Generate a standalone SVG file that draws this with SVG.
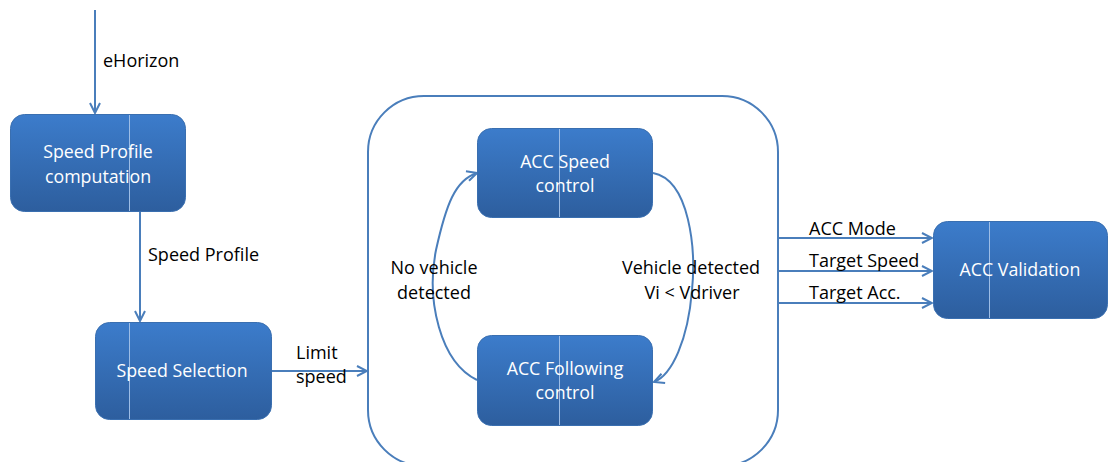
<svg xmlns="http://www.w3.org/2000/svg" width="1109" height="462" viewBox="0 0 1109 462">
  <style>
    .node rect.box { fill: url(#nodeFill); stroke: #3a6fb0; stroke-width: 1; }
    .node line.seam { stroke: #9dbde6; stroke-width: 1; }
    .node text { font-family: "Open Sans", "Liberation Sans", sans-serif; font-size: 17.8px; fill: #ffffff; text-anchor: middle; }
    .conn { fill: none; stroke: #4a7ebb; stroke-width: 2; }
    .lbl { font-family: "Open Sans", "Liberation Sans", sans-serif; font-size: 18px; fill: #000000; }
  </style>
  <defs>
    <linearGradient id="nodeFill" x1="0" y1="0" x2="0" y2="1">
      <stop offset="0" stop-color="#3c7ccb"/>
      <stop offset="1" stop-color="#2d5e9e"/>
    </linearGradient>
    <marker id="arrow" viewBox="0 0 12 12" refX="11" refY="6" markerWidth="12" markerHeight="12" markerUnits="userSpaceOnUse" orient="auto">
      <path d="M1,1 L11,6 L1,11" fill="none" stroke="#4a7ebb" stroke-width="2"/>
    </marker>
  </defs>

  <!-- connectors -->
  <g id="connectors">
    <line class="conn" x1="95" y1="10" x2="95" y2="113" marker-end="url(#arrow)"/>
    <line class="conn" x1="140" y1="212" x2="140" y2="321" marker-end="url(#arrow)"/>
    <line class="conn" x1="272" y1="371" x2="367" y2="371" marker-end="url(#arrow)"/>
    <!-- state loop -->
    <path class="conn" d="M477,380 C440,362 426,300 436,250 C446,205 455,180 477,173" marker-end="url(#arrow)"/>
    <path class="conn" d="M653,173 C690,180 696,250 692,290 C688,340 672,375 654,382" marker-end="url(#arrow)"/>
    <!-- outputs -->
    <line class="conn" x1="778" y1="238" x2="932" y2="238" marker-end="url(#arrow)"/>
    <line class="conn" x1="778" y1="271" x2="932" y2="271" marker-end="url(#arrow)"/>
    <line class="conn" x1="778" y1="303" x2="932" y2="303" marker-end="url(#arrow)"/>
  </g>

  <!-- ACC state container -->
  <g id="acc-container">
    <rect x="368" y="96" width="410" height="370" rx="56" ry="56" fill="none" stroke="#4a7ebb" stroke-width="2"/>
  </g>

  <!-- connector labels -->
  <g id="labels">
    <text class="lbl" x="103" y="67">eHorizon</text>
    <text class="lbl" x="148" y="261">Speed Profile</text>
    <text class="lbl" x="296" y="359">Limit</text>
    <text class="lbl" x="296" y="383">speed</text>
    <text class="lbl" x="434" y="274" text-anchor="middle">No vehicle</text>
    <text class="lbl" x="434" y="299" text-anchor="middle">detected</text>
    <text class="lbl" x="691" y="274" text-anchor="middle">Vehicle detected</text>
    <text class="lbl" x="692" y="299" text-anchor="middle">Vi &lt; Vdriver</text>
    <text class="lbl" x="809" y="235">ACC Mode</text>
    <text class="lbl" x="809" y="267">Target Speed</text>
    <text class="lbl" x="809" y="299">Target Acc.</text>
  </g>

  <g id="speed-profile-computation" class="node">
    <rect class="box" x="10.5" y="114.5" width="175" height="97" rx="14"/>
    <line class="seam" x1="129.5" y1="115" x2="129.5" y2="211"/>
    <text x="98" y="158">Speed Profile</text>
    <text x="98" y="183">computation</text>
  </g>

  <g id="speed-selection" class="node">
    <rect class="box" x="95.5" y="322.5" width="176" height="97" rx="14"/>
    <line class="seam" x1="129.5" y1="323" x2="129.5" y2="419"/>
    <text x="182" y="377">Speed Selection</text>
  </g>

  <g id="acc-speed-control" class="node">
    <rect class="box" x="477.5" y="128.5" width="175" height="89" rx="14"/>
    <line class="seam" x1="559.5" y1="129" x2="559.5" y2="217"/>
    <text x="565" y="168">ACC Speed</text>
    <text x="565" y="192">control</text>
  </g>

  <g id="acc-following-control" class="node">
    <rect class="box" x="477.5" y="335.5" width="175" height="90" rx="14"/>
    <line class="seam" x1="559.5" y1="336" x2="559.5" y2="425"/>
    <text x="565" y="375">ACC Following</text>
    <text x="565" y="399">control</text>
  </g>

  <g id="acc-validation" class="node">
    <rect class="box" x="933.5" y="221.5" width="174" height="97" rx="14"/>
    <line class="seam" x1="989.5" y1="222" x2="989.5" y2="318"/>
    <text x="1020" y="276">ACC Validation</text>
  </g>
</svg>
